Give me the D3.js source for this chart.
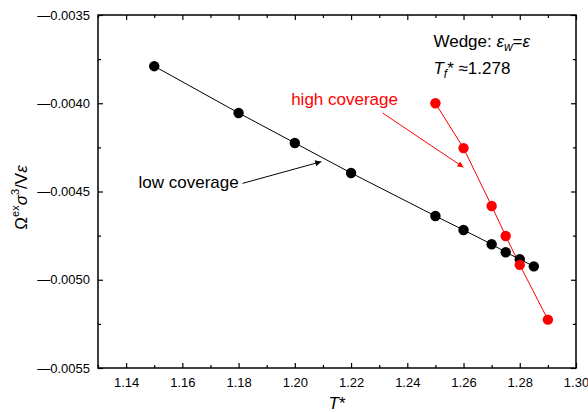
<!DOCTYPE html>
<html>
<head>
<meta charset="utf-8">
<script src="https://cdn.jsdelivr.net/npm/d3@7"></script>
<style>
  body { margin: 0; background: #fff; }
  svg text { font-family: "Liberation Sans", Arial, sans-serif; }
</style>
</head>
<body>
<div id="chart"></div>
<script>
// Data
const lowT = [1.15, 1.18, 1.20, 1.22, 1.25, 1.26, 1.27, 1.275, 1.28, 1.285];
const lowOmega = [-0.00379, -0.004055, -0.004225, -0.004395, -0.004639, -0.004718, -0.004799, -0.004844, -0.004884, -0.004924];
const highT = [1.25, 1.26, 1.27, 1.275, 1.28, 1.29];
const highOmega = [-0.00400, -0.004254, -0.004582, -0.004752, -0.004916, -0.005226];

const xMajor = [1.14, 1.16, 1.18, 1.20, 1.22, 1.24, 1.26, 1.28, 1.30];
const xMinor = [1.13, 1.15, 1.17, 1.19, 1.21, 1.23, 1.25, 1.27, 1.29];
const yMajor = [-0.0055, -0.0050, -0.0045, -0.0040, -0.0035];
const yMinor = [-0.00525, -0.00475, -0.00425, -0.00375];

const width = 588;
const height = 412;
const margin = { top: 15, right: 12, bottom: 44, left: 98 };

const svg = d3.select("#chart")
    .append("svg")
    .attr("width", width)
    .attr("height", height);

const x = d3.scaleLinear()
    .domain([1.13, 1.30])
    .range([margin.left, width - margin.right]);

const y = d3.scaleLinear()
    .domain([-0.0055, -0.0035])
    .range([height - margin.bottom, margin.top]);

const low = lowT.map((t, i) => ({ t, v: lowOmega[i] }));
const high = highT.map((t, i) => ({ t, v: highOmega[i] }));

// Axes (ticks point inward, mirrored on top and right)
const fmtX = d => d.toFixed(2);
const fmtY = d => "\u2014" + Math.abs(d).toFixed(4);

function styleAxis(g) {
    g.select(".domain").remove();
    g.selectAll("line").attr("stroke", "#000").attr("stroke-width", 1.2);
    g.selectAll("text").style("font-size", "13px").attr("fill", "#000");
}

const bottomY = height - margin.bottom;
const rightX = width - margin.right;

svg.append("g").attr("transform", `translate(0,${bottomY})`)
    .call(d3.axisBottom(x).tickValues(xMajor).tickSize(-5).tickSizeOuter(0).tickPadding(10).tickFormat(fmtX))
    .call(styleAxis);
svg.append("g").attr("transform", `translate(0,${bottomY})`)
    .call(d3.axisBottom(x).tickValues(xMinor).tickSize(-3).tickSizeOuter(0).tickFormat(""))
    .call(styleAxis);
svg.append("g").attr("transform", `translate(0,${margin.top})`)
    .call(d3.axisTop(x).tickValues(xMajor).tickSize(-5).tickSizeOuter(0).tickFormat(""))
    .call(styleAxis);
svg.append("g").attr("transform", `translate(0,${margin.top})`)
    .call(d3.axisTop(x).tickValues(xMinor).tickSize(-3).tickSizeOuter(0).tickFormat(""))
    .call(styleAxis);

svg.append("g").attr("transform", `translate(${margin.left},0)`)
    .call(d3.axisLeft(y).tickValues(yMajor).tickSize(-5).tickSizeOuter(0).tickPadding(8).tickFormat(fmtY))
    .call(styleAxis);
svg.append("g").attr("transform", `translate(${margin.left},0)`)
    .call(d3.axisLeft(y).tickValues(yMinor).tickSize(-3).tickSizeOuter(0).tickFormat(""))
    .call(styleAxis);
svg.append("g").attr("transform", `translate(${rightX},0)`)
    .call(d3.axisRight(y).tickValues(yMajor).tickSize(-5).tickSizeOuter(0).tickFormat(""))
    .call(styleAxis);
svg.append("g").attr("transform", `translate(${rightX},0)`)
    .call(d3.axisRight(y).tickValues(yMinor).tickSize(-3).tickSizeOuter(0).tickFormat(""))
    .call(styleAxis);

// Frame
svg.append("rect")
    .attr("x", margin.left)
    .attr("y", margin.top)
    .attr("width", rightX - margin.left)
    .attr("height", bottomY - margin.top)
    .attr("fill", "none")
    .attr("stroke", "#000")
    .attr("stroke-width", 1.5);

// Lines + markers
const line = d3.line().x(d => x(d.t)).y(d => y(d.v));

svg.append("path").datum(low)
    .attr("fill", "none").attr("stroke", "#000").attr("stroke-width", 1)
    .attr("d", line);
svg.append("path").datum(high)
    .attr("fill", "none").attr("stroke", "#ff0000").attr("stroke-width", 1)
    .attr("d", line);

svg.selectAll(".low-pt").data(low).join("circle")
    .attr("cx", d => x(d.t)).attr("cy", d => y(d.v)).attr("r", 5.2)
    .attr("fill", "#000");
svg.selectAll(".high-pt").data(high).join("circle")
    .attr("cx", d => x(d.t)).attr("cy", d => y(d.v)).attr("r", 5.2)
    .attr("fill", "#ff0000");

// Arrow markers
const defs = svg.append("defs");
[["arrow-black", "#000"], ["arrow-red", "#ff0000"]].forEach(([id, c]) => {
    defs.append("marker")
        .attr("id", id)
        .attr("viewBox", "0 0 10 10")
        .attr("refX", 10).attr("refY", 5)
        .attr("markerWidth", 10).attr("markerHeight", 6)
        .attr("markerUnits", "userSpaceOnUse")
        .attr("orient", "auto")
        .append("path")
        .attr("d", "M0,0 L10,5 L0,10 Z")
        .attr("fill", c);
});

// Annotations (positioned in data units)
const lowArrow = [[1.1814, -0.004454], [1.2094, -0.004331]];
const highArrow = [[1.2312, -0.004055], [1.2600, -0.004363]];

svg.append("line")
    .attr("x1", x(lowArrow[0][0])).attr("y1", y(lowArrow[0][1]))
    .attr("x2", x(lowArrow[1][0])).attr("y2", y(lowArrow[1][1]))
    .attr("stroke", "#000").attr("stroke-width", 1)
    .attr("marker-end", "url(#arrow-black)");
svg.append("line")
    .attr("x1", x(highArrow[0][0])).attr("y1", y(highArrow[0][1]))
    .attr("x2", x(highArrow[1][0])).attr("y2", y(highArrow[1][1]))
    .attr("stroke", "#ff0000").attr("stroke-width", 1)
    .attr("marker-end", "url(#arrow-red)");

svg.append("text")
    .attr("x", x(1.1444)).attr("y", y(-0.00448))
    .style("font-size", "17px").attr("fill", "#000")
    .text("low coverage");

svg.append("text")
    .attr("x", x(1.1987)).attr("y", y(-0.0040127))
    .style("font-size", "17px").attr("fill", "#ff0000")
    .text("high coverage");

const wedge = svg.append("text")
    .attr("x", x(1.2493)).attr("y", y(-0.00368))
    .style("font-size", "17px").attr("fill", "#000");
wedge.append("tspan").text("Wedge: ");
wedge.append("tspan").style("font-style", "italic").text("\u03b5");
wedge.append("tspan").style("font-style", "italic").style("font-size", "12px").attr("dy", 4).text("w");
wedge.append("tspan").attr("dy", -4).text("=");
wedge.append("tspan").style("font-style", "italic").text("\u03b5");

const tf = svg.append("text")
    .attr("x", x(1.2493)).attr("y", y(-0.003834))
    .style("font-size", "17px").attr("fill", "#000");
tf.append("tspan").style("font-style", "italic").text("T");
tf.append("tspan").style("font-style", "italic").style("font-size", "12px").attr("dy", 4).text("f");
tf.append("tspan").attr("dy", -4).text("* \u22481.278");

// Axis titles
const xTitle = svg.append("text")
    .attr("x", (margin.left + rightX) / 2)
    .attr("y", 409)
    .attr("text-anchor", "middle")
    .style("font-size", "17px");
xTitle.append("tspan").style("font-style", "italic").text("T");
xTitle.append("tspan").text("*");

const yTitle = svg.append("text")
    .attr("transform", `translate(27,${(margin.top + bottomY) / 2 + 6}) rotate(-90)`)
    .attr("text-anchor", "middle")
    .style("font-size", "17px");
yTitle.append("tspan").text("\u03a9");
yTitle.append("tspan").style("font-size", "11px").attr("dy", -8).text("ex");
yTitle.append("tspan").style("font-style", "italic").attr("dy", 8).text("\u03c3");
yTitle.append("tspan").style("font-size", "11px").attr("dy", -8).text("3");
yTitle.append("tspan").attr("dy", 8).text("/V");
yTitle.append("tspan").style("font-style", "italic").text("\u03b5");
</script>
</body>
</html>
